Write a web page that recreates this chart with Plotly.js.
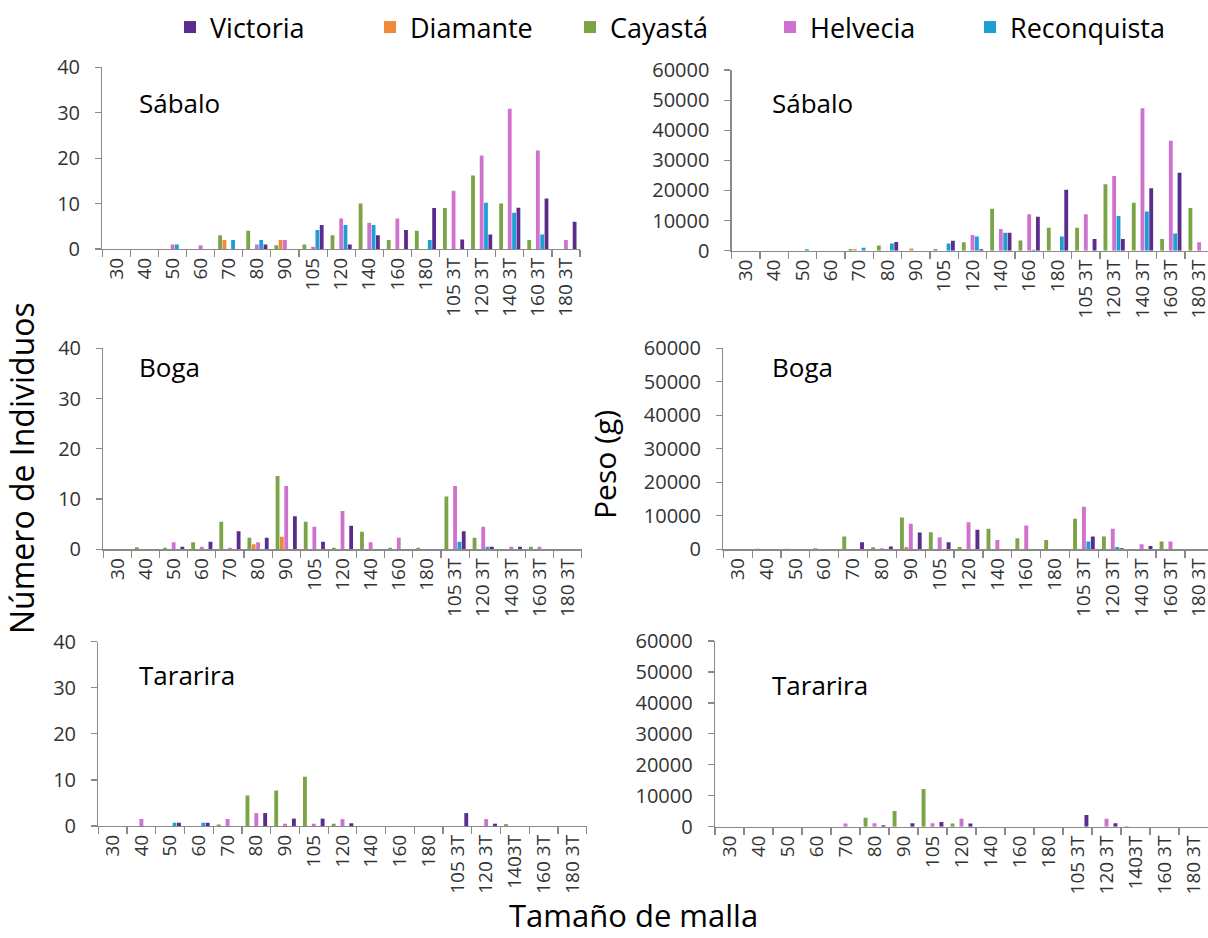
<!DOCTYPE html>
<html>
<head>
<meta charset="utf-8">
<script src="https://cdn.plot.ly/plotly-3.0.1.min.js"></script>
<style>html,body{margin:0;padding:0;background:#fff}#chart{width:1208px;height:938px}</style>
</head>
<body>
<div id="chart"></div>
<script>
// ---- categories (tick labels) ----
const categoriesA = ['30','40','50','60','70','80','90','105','120','140','160','180','105 3T','120 3T','140 3T','160 3T','180 3T'];
const categoriesB = ['30','40','50','60','70','80','90','105','120','140','160','180','105 3T','120 3T','1403T','160 3T','180 3T'];

const seriesNames = ['Victoria','Diamante','Cayastá','Helvecia','Reconquista'];

// ---- Sábalo: número de individuos ----
const sabaloNumVictoria    = [0,0,0,0,0,1,0,5.3,1,3,4.2,9,2.1,3.2,9.1,11.1,6];
const sabaloNumDiamante    = [0,0,0,0,2,0,2,0,0,0,0,0,0,0,0,0,0];
const sabaloNumCayasta     = [0,0,0,0,3,4,0.8,1,3,10,2,4,9,16.2,10,2,0];
const sabaloNumHelvecia    = [0,0,1,0.8,0,1,2,0.5,6.7,5.8,6.7,0,12.8,20.6,30.9,21.7,2];
const sabaloNumReconquista = [0,0,1,0,2,2,0,4.2,5.3,5.3,0,2,0,10.2,8,3.2,0];

// ---- Sábalo: peso (g) ----
const sabaloPesoVictoria    = [0,0,0,0,0,2900,0,3300,500,6000,11300,20200,3900,3900,20700,25900,0];
const sabaloPesoDiamante    = [0,0,0,0,500,0,700,0,0,0,0,0,0,0,0,0,0];
const sabaloPesoCayasta     = [0,0,0,0,600,1700,0,600,2800,13900,3400,7600,7600,22100,15900,3900,14200];
const sabaloPesoHelvecia    = [0,0,0,0,0,0,0,0,5200,7200,12100,0,12100,24800,47300,36500,2800];
const sabaloPesoReconquista = [0,0,500,0,1000,2400,0,2400,4700,6000,300,4700,0,11500,13000,5700,0];

// ---- Boga: número de individuos ----
const bogaNumVictoria    = [0,0,0.5,1.5,3.6,2.3,6.6,1.5,4.7,0,0,0,3.6,0.5,0.5,0,0];
const bogaNumDiamante    = [0,0,0,0,0,1,2.5,0,0,0,0,0,0,0,0,0,0];
const bogaNumCayasta     = [0,0.4,0.3,1.4,5.5,2.3,14.6,5.5,0.3,3.5,0.3,0.3,10.5,2.3,0,0.5,0];
const bogaNumHelvecia    = [0,0,1.4,0.5,0.3,1.4,12.6,4.5,7.6,1.4,2.3,0,12.6,4.5,0.5,0.5,0];
const bogaNumReconquista = [0,0,0,0,0,0,0,0,0,0,0,0,1.5,0.5,0,0,0];

// ---- Boga: peso (g) ----
const bogaPesoVictoria    = [0,0,0,0,2100,800,5000,2100,5800,0,0,0,3800,300,1000,0,0];
const bogaPesoDiamante    = [0,0,0,0,0,0,700,0,0,0,0,0,0,0,0,0,0];
const bogaPesoCayasta     = [0,200,200,300,3800,600,9500,5100,700,6100,3300,2800,9100,3800,0,2300,0];
const bogaPesoHelvecia    = [0,0,0,0,0,300,7600,3600,8100,2800,7100,0,12700,6100,1500,2300,0];
const bogaPesoReconquista = [0,0,0,0,0,0,0,0,0,0,0,0,2300,700,0,0,0];

// ---- Tararira: número de individuos ----
const tarariraNumVictoria    = [0,0,0.7,0.7,0,2.8,1.6,1.6,0.6,0,0,0,2.8,0.5,0,0,0];
const tarariraNumDiamante    = [0,0,0,0,0,0,0,0,0,0,0,0,0,0,0,0,0];
const tarariraNumCayasta     = [0,0,0,0,0.3,6.6,7.7,10.7,0.5,0,0,0,0,0,0.4,0,0];
const tarariraNumHelvecia    = [0,1.5,0,0,1.5,2.8,0.5,0.5,1.5,0,0,0,0,1.5,0,0,0];
const tarariraNumReconquista = [0,0,0.7,0.7,0,0,0,0,0,0,0,0,0,0,0,0,0];

// ---- Tararira: peso (g) ----
const tarariraPesoVictoria    = [0,0,0,0,0,500,1100,1500,1000,0,0,0,3800,1100,0,0,0];
const tarariraPesoDiamante    = [0,0,0,0,0,0,0,0,0,0,0,0,0,0,0,0,0];
const tarariraPesoCayasta     = [0,0,0,0,0,2900,5100,12200,1000,0,0,0,0,0,200,0,0];
const tarariraPesoHelvecia    = [0,0,0,0,1000,1100,0,1100,2600,0,0,0,0,2600,0,0,0];
const tarariraPesoReconquista = [0,0,0,0,0,0,0,0,0,0,0,0,0,0,0,0,0];

// ---- styling ----
const colors = {Victoria:'#5a2d8c', Diamante:'#ee8a3a', 'Cayastá':'#7ba446', Helvecia:'#cf72cf', Reconquista:'#1d9fd6'};
const legendRank = {Victoria:1, Diamante:2, 'Cayastá':3, Helvecia:4, Reconquista:5};
// bar placement order inside each group, as in the original figure
const drawOrder = ['Cayastá','Diamante','Helvecia','Reconquista','Victoria'];

const panels = [
  {ax:'',  cats:categoriesA, data:{Victoria:sabaloNumVictoria, Diamante:sabaloNumDiamante, 'Cayastá':sabaloNumCayasta, Helvecia:sabaloNumHelvecia, Reconquista:sabaloNumReconquista}},
  {ax:'2', cats:categoriesA, data:{Victoria:sabaloPesoVictoria, Diamante:sabaloPesoDiamante, 'Cayastá':sabaloPesoCayasta, Helvecia:sabaloPesoHelvecia, Reconquista:sabaloPesoReconquista}},
  {ax:'3', cats:categoriesA, data:{Victoria:bogaNumVictoria, Diamante:bogaNumDiamante, 'Cayastá':bogaNumCayasta, Helvecia:bogaNumHelvecia, Reconquista:bogaNumReconquista}},
  {ax:'4', cats:categoriesA, data:{Victoria:bogaPesoVictoria, Diamante:bogaPesoDiamante, 'Cayastá':bogaPesoCayasta, Helvecia:bogaPesoHelvecia, Reconquista:bogaPesoReconquista}},
  {ax:'5', cats:categoriesB, data:{Victoria:tarariraNumVictoria, Diamante:tarariraNumDiamante, 'Cayastá':tarariraNumCayasta, Helvecia:tarariraNumHelvecia, Reconquista:tarariraNumReconquista}},
  {ax:'6', cats:categoriesB, data:{Victoria:tarariraPesoVictoria, Diamante:tarariraPesoDiamante, 'Cayastá':tarariraPesoCayasta, Helvecia:tarariraPesoHelvecia, Reconquista:tarariraPesoReconquista}}
];

const traces = [];
panels.forEach((p, pi) => {
  drawOrder.forEach(name => {
    traces.push({
      type:'bar', name:name, x:p.cats, y:p.data[name],
      xaxis:'x'+p.ax, yaxis:'y'+p.ax,
      marker:{color:colors[name]},
      legendgroup:name, legendrank:legendRank[name],
      showlegend: pi === 0, hoverinfo:'x+y+name'
    });
  });
});

const W = 1208, H = 938;
const px = v => v / W;
const py = v => 1 - v / H;

const FONT = 'Open Sans, Lato, sans-serif';
const axisGray = '#8a8a8a';

function xAxis(x0, x1, rangeEnd) {
  return {
    domain:[px(x0), px(x1)], type:'category', range:[-0.5, rangeEnd],
    showline:true, linecolor:axisGray, linewidth:1.3,
    ticks:'outside', tickson:'boundaries', ticklen:7, tickcolor:axisGray, tickwidth:1.2,
    tickangle:-90, tickfont:{family:FONT, size:19, color:'#333'},
    showgrid:false, zeroline:false, fixedrange:true
  };
}
function yAxis(y0, y1, max, dtick, anchor) {
  return {
    domain:[py(y0), py(y1)], range:[0, max], dtick:dtick, tick0:0,
    showline:true, linecolor:axisGray, linewidth:1.3,
    ticks:'outside', ticklen:6, tickcolor:axisGray, tickwidth:1.2,
    ticklabelstandoff:11, tickformat:'d',
    tickfont:{family:FONT, size:20, color:'#333'},
    showgrid:false, zeroline:false, anchor:anchor, fixedrange:true
  };
}

const layout = {
  width:W, height:H,
  margin:{l:0, r:0, t:0, b:0},
  paper_bgcolor:'#fff', plot_bgcolor:'rgba(0,0,0,0)',
  barmode:'group', bargap:0.23, bargroupgap:0.12,
  font:{family:FONT, color:'#000'},
  showlegend:true,
  legend:{orientation:'h', x:px(170), y:py(3), xanchor:'left', yanchor:'top',
          font:{family:FONT, size:27, color:'#000'}, entrywidth:155, entrywidthmode:'pixels',
          itemwidth:30, bgcolor:'rgba(0,0,0,0)', traceorder:'normal'},
  xaxis:  Object.assign(xAxis(102.3, 580, 16.5), {anchor:'y'}),
  yaxis:  yAxis(249, 67.3, 40, 10, 'x'),
  xaxis2: Object.assign(xAxis(731.7, 1208, -0.5 + (1208-731.7)/28.33), {anchor:'y2'}),
  yaxis2: yAxis(250.7, 70, 60000, 10000, 'x2'),
  xaxis3: Object.assign(xAxis(103.3, 581.7, 16.5), {anchor:'y3'}),
  yaxis3: yAxis(549.3, 348.3, 40, 10, 'x3'),
  xaxis4: Object.assign(xAxis(723.3, 1208, -0.5 + (1208-723.3)/28.85), {anchor:'y4'}),
  yaxis4: yAxis(549.3, 348.3, 60000, 10000, 'x4'),
  xaxis5: Object.assign(xAxis(98.3, 586.7, 16.5), {anchor:'y5'}),
  yaxis5: yAxis(826, 641.7, 40, 10, 'x5'),
  xaxis6: Object.assign(xAxis(715, 1208, 16.5), {anchor:'y6'}),
  yaxis6: yAxis(826.7, 641, 60000, 10000, 'x6'),
  annotations:[
    {text:'Sábalo',   x:px(137), y:py(103), xref:'paper', yref:'paper', xanchor:'left', yanchor:'middle', showarrow:false, font:{family:FONT, size:26, color:'#000'}},
    {text:'Boga',     x:px(137), y:py(367), xref:'paper', yref:'paper', xanchor:'left', yanchor:'middle', showarrow:false, font:{family:FONT, size:26, color:'#000'}},
    {text:'Tararira', x:px(137), y:py(675), xref:'paper', yref:'paper', xanchor:'left', yanchor:'middle', showarrow:false, font:{family:FONT, size:26, color:'#000'}},
    {text:'Sábalo',   x:px(770), y:py(103), xref:'paper', yref:'paper', xanchor:'left', yanchor:'middle', showarrow:false, font:{family:FONT, size:26, color:'#000'}},
    {text:'Boga',     x:px(770), y:py(367), xref:'paper', yref:'paper', xanchor:'left', yanchor:'middle', showarrow:false, font:{family:FONT, size:26, color:'#000'}},
    {text:'Tararira', x:px(770), y:py(685), xref:'paper', yref:'paper', xanchor:'left', yanchor:'middle', showarrow:false, font:{family:FONT, size:26, color:'#000'}},
    {text:'Número de Individuos', x:px(22), y:py(468), xref:'paper', yref:'paper', xanchor:'center', yanchor:'middle', textangle:-90, showarrow:false, font:{family:FONT, size:32, color:'#000'}},
    {text:'Peso (g)', x:px(604), y:py(465), xref:'paper', yref:'paper', xanchor:'center', yanchor:'middle', textangle:-90, showarrow:false, font:{family:FONT, size:30, color:'#000'}},
    {text:'Tamaño de malla', x:px(633), y:0, xref:'paper', yref:'paper', xanchor:'center', yanchor:'bottom', showarrow:false, font:{family:FONT, size:31, color:'#000'}}
  ]
};

Plotly.newPlot('chart', traces, layout, {displayModeBar:false, staticPlot:true});
</script>
</body>
</html>
